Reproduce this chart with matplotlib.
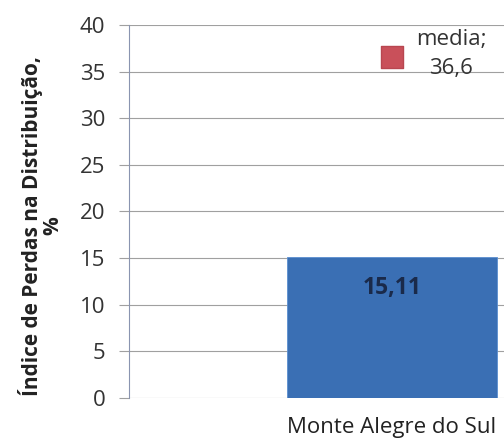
import matplotlib
matplotlib.use("Agg")
import matplotlib.pyplot as plt

# data
categorias = ["Monte Alegre do Sul"]
perdas = [15.11]
media = [36.6]
yticks = [0, 5, 10, 15, 20, 25, 30, 35, 40]

plt.rcParams['font.family'] = ['Open Sans', 'DejaVu Sans']

fig = plt.figure(figsize=(5.04, 4.41), dpi=100)
W, H = 504, 441
# axes: left 129px, right past the edge, y0 at 398px, y40 at 25px
ax = fig.add_axes([129 / W, (H - 398) / H, (504 - 129) / W, (398 - 25) / H])

x = list(range(len(categorias)))
bars = ax.bar(x, perdas, width=0.6, color='#3a6fb4', edgecolor='#5b8fd0',
              linewidth=0.6, zorder=2)
ax.scatter(x, media, marker='s', s=240, color='#c9505a', edgecolor='#b84650',
           zorder=3)

for xi, v in zip(x, perdas):
    ax.text(xi, v - 3.3, ('%.2f' % v).replace('.', ','), ha='center',
            va='center', fontsize=16.5, fontweight='bold', color='#1a2a4a', zorder=4)
for xi, v in zip(x, media):
    ax.text(xi + 0.17, v + 0.3, 'media;\n' + ('%.1f' % v).replace('.', ','),
            ha='center', va='center', fontsize=16, color='#333333',
            linespacing=1.45, zorder=4)

# center of the bar sits at 392px; 0.6 units = 210px
ppu = 210 / 0.6
ax.set_xlim(-(392 - 129) / ppu, (504 - 392) / ppu)
ax.set_ylim(0, 40)
ax.set_yticks(yticks)
ax.set_yticklabels([str(t) for t in yticks], fontsize=16, color='#333333')
ax.set_xticks(x)
ax.set_xticklabels(categorias, fontsize=16, color='#222222')
ax.tick_params(axis='y', length=7, color='#a0a0a0', width=0.8, pad=10)
ax.tick_params(axis='x', length=0, pad=14)

ax.grid(axis='y', color='#a0a0a0', linewidth=0.8, zorder=0)
ax.set_axisbelow(True)
for s in ['top', 'right', 'bottom']:
    ax.spines[s].set_visible(False)
ax.spines['left'].set_color('#8a94b0')
ax.spines['left'].set_linewidth(0.8)

# y title placed like the reference (centre at ~41px, 226px from top)
fig.text(41 / W, 1 - 226 / H, 'Índice de Perdas na Distribuição,\n%',
         rotation=90, ha='center', va='center', fontsize=15,
         fontweight='bold', color='#222222', linespacing=0.95)

fig.savefig('out.png', dpi=100)
